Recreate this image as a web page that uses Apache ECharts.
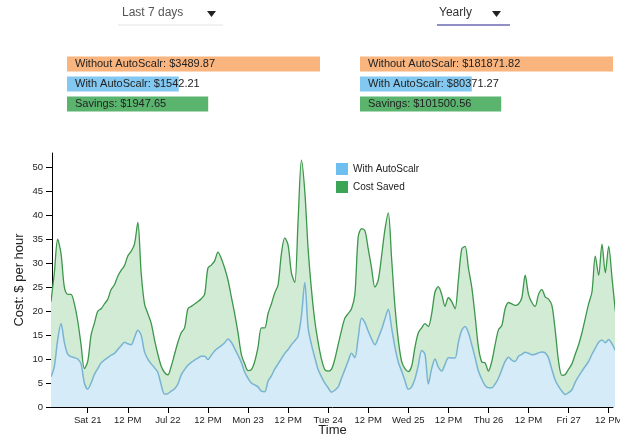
<!DOCTYPE html>
<html>
<head>
<meta charset="utf-8">
<script src="https://cdn.jsdelivr.net/npm/echarts@6/dist/echarts.min.js"></script>
<style>
  html, body { margin: 0; padding: 0; background: #fff; }
  #chart { width: 620px; height: 438px; }
</style>
</head>
<body>
<div id="chart"></div>
<script>
// hourly samples, hour 0 = Sat 21 00:00
var startHour = -11;

var withoutAutoScalr = [
  22, 28, 35, 32, 25, 23.5, 23.5, 21.5, 18, 13, 8, 9.5,
  15, 17.5, 20, 20.5, 21.5, 22.5, 24.5, 25.5, 27.3, 28.5, 29.5, 31.5,
  32.5, 34, 38.5, 28, 21.5, 19.5, 17.5, 14, 11, 8.5, 7.2, 6.7,
  8.5, 11, 13.5, 15.5, 16.5, 20.5, 21, 21.5, 22, 22.6, 23.5, 29,
  29.6, 30.5, 32.3, 31, 29, 26.5, 23, 19.5, 15.5, 11, 9, 7.6,
  7.8, 9.5, 12.5, 16.5, 16.5, 19.5, 21.5, 23.8, 25.5, 32, 35.3, 33.8,
  28, 26, 39, 51.5, 45, 33, 24.5, 18, 13.5, 10, 7.8, 7.5,
  7.9, 10, 13, 16, 18.5, 19.5, 20.5, 23.5, 35.5, 37.2, 36.8, 33,
  29, 25, 26.5, 31.5, 37, 40.5, 31, 21, 14, 9.5, 8, 7.4,
  8.5, 12.5, 15.5, 16.5, 17.4, 16.8, 19.5, 24, 25.1, 23.5, 21, 22.8,
  22, 20.5, 26.5, 33, 33.5, 29, 25, 19, 12.5, 9.4, 9.2, 7.5,
  9.5, 13, 16.1, 17, 20.5, 21.8, 21.5, 21.2, 21.5, 22.8, 27.5, 23.5,
  21.8, 21, 23.5, 24.5, 23, 22.5, 21.2, 16, 9.5, 6.6, 6.8, 7.9,
  9, 11, 13, 15.5, 18.5, 21.5, 24, 31.5, 27.5, 34, 28, 33.5,
  27, 20
];

var withAutoScalr = [
  6.3, 8.5, 14, 17.4, 13.5, 11, 10.5, 10.3, 10, 9, 5, 3.7,
  5, 6.8, 8, 9.2, 9.8, 10.3, 10.8, 11.2, 12, 12.8, 13.5, 13.2,
  13, 14.5, 16, 15, 11.5, 10, 9, 8.2, 7.2, 4.6, 2.7, 2.8,
  3.3, 3.8, 4.8, 6.7, 7.8, 8.7, 9.3, 9.8, 10.2, 10.6, 10.6, 9.9,
  10.8, 11.7, 12.3, 12.8, 13.4, 14.2, 13.5, 12.2, 10.8, 9.3, 7.3, 6,
  5, 4.6, 4.2, 3.3, 3.2, 5.4, 6.5, 7.9, 9, 10.1, 11.2, 12,
  13, 13.8, 14.8, 19, 26, 16.5, 13, 10.3, 7.8, 6.3, 5, 4,
  3.1, 3.5, 4.2, 6, 7.8, 9.6, 11.2, 10.3, 14.5, 18.5, 17.6, 15.8,
  14.2, 13, 14.4, 16.2, 18.4, 20.4, 16.5, 12.5, 9.4, 7.5, 5.5, 3.7,
  4.2, 5.9, 8.7, 11.8, 11, 4.8, 8, 10, 8.3, 7.5, 8.9, 10.3,
  10.2, 10.2, 13.5, 16, 16.8, 15.5, 13, 10.3, 7.5, 5.8, 4.5, 4,
  4, 4.8, 6, 7.8, 9.5, 10.4, 9.8, 9.5, 10.6, 11, 11.4, 11.2,
  10.9, 11, 11.3, 11.5, 11.3, 10.2, 7.8, 5.6, 4.3, 3.3, 2.6, 3,
  3.6, 5.2, 6.4, 7.5, 8.5, 9.5, 11, 12.3, 13.5, 14, 13.4, 14.1,
  13.2, 11.8
];

var tickHours = [0, 12, 24, 36, 48, 60, 72, 84, 96, 108, 120, 132, 144, 156];
var tickLabels = ['Sat 21', '12 PM', 'Jul 22', '12 PM', 'Mon 23', '12 PM', 'Tue 24',
  '12 PM', 'Wed 25', '12 PM', 'Thu 26', '12 PM', 'Fri 27', '12 PM'];
var yTicks = [0, 5, 10, 15, 20, 25, 30, 35, 40, 45, 50];

var barNames = ['Without AutoScalr', 'With AutoScalr', 'Savings'];
var weekTotals = [3489.87, 1542.21, 1947.65];
var yearTotals = [181871.82, 80371.27, 101500.56];
var barColors = ['#fab47d', '#82c8f0', '#5ab46e'];

var font = 'Liberation Sans, Arial, sans-serif';

function pairs(arr) {
  return arr.map(function (v, i) { return [startHour + i, v]; });
}

function totalsBar(totals, idx) {
  return {
    type: 'bar',
    xAxisIndex: idx,
    yAxisIndex: idx,
    barWidth: 15,
    data: totals.map(function (v, i) {
      return { value: v, itemStyle: { color: barColors[i] } };
    }),
    label: {
      show: true,
      position: 'insideLeft',
      distance: 8,
      fontFamily: font,
      fontSize: 11,
      color: '#222',
      formatter: function (p) {
        return barNames[p.dataIndex] + ': $' + p.value.toFixed(2);
      }
    },
    silent: true
  };
}

var chart = echarts.init(document.getElementById('chart'));

var option = {
  animation: false,
  textStyle: { fontFamily: font },
  graphic: [
    { type: 'text', left: 122, top: 7, style: { text: 'Last 7 days', font: '12px ' + font, fill: '#555' } },
    { type: 'polygon', shape: { points: [[207, 11], [216, 11], [211.5, 17]] }, style: { fill: '#222' } },
    { type: 'line', shape: { x1: 118, y1: 25, x2: 223, y2: 25 }, style: { stroke: '#e4e4e4', lineWidth: 1 } },
    { type: 'text', left: 439, top: 7, style: { text: 'Yearly', font: '12px ' + font, fill: '#333' } },
    { type: 'polygon', shape: { points: [[492, 11], [501, 11], [496.5, 17]] }, style: { fill: '#222' } },
    { type: 'line', shape: { x1: 437, y1: 25, x2: 510, y2: 25 }, style: { stroke: '#6b6bb5', lineWidth: 1.5 } }
  ],
  legend: {
    orient: 'vertical',
    left: 336,
    top: 163,
    padding: 0,
    itemWidth: 12,
    itemHeight: 12,
    itemGap: 6,
    icon: 'rect',
    selectedMode: false,
    itemStyle: { borderWidth: 0 },
    textStyle: { fontFamily: font, fontSize: 10, color: '#222' },
    data: ['With AutoScalr', 'Cost Saved']
  },
  grid: [
    { left: 67, top: 54, width: 253, height: 60, outerBoundsMode: 'none' },
    { left: 360, top: 54, width: 253, height: 60, outerBoundsMode: 'none' },
    { left: 52, right: 7, top: 153, bottom: 31, outerBoundsMode: 'none' }
  ],
  xAxis: [
    { gridIndex: 0, type: 'value', min: 0, max: weekTotals[0], show: false },
    { gridIndex: 1, type: 'value', min: 0, max: yearTotals[0], show: false },
    {
      gridIndex: 2,
      type: 'value',
      min: -10.7,
      max: 157.3,
      name: 'Time',
      nameLocation: 'middle',
      nameGap: 17,
      nameMoveOverlap: false,
      nameTextStyle: { fontFamily: font, fontSize: 13, color: '#222' },
      axisLine: { lineStyle: { color: '#000', width: 1 } },
      axisTick: { length: 6, customValues: tickHours, lineStyle: { color: '#000' } },
      axisLabel: {
        customValues: tickHours,
        margin: 8,
        fontSize: 9.5,
        color: '#222',
        formatter: function (v) { return tickLabels[tickHours.indexOf(v)]; }
      },
      splitLine: { show: false }
    }
  ],
  yAxis: [
    { gridIndex: 0, type: 'category', data: barNames, inverse: true, show: false },
    { gridIndex: 1, type: 'category', data: barNames, inverse: true, show: false },
    {
      gridIndex: 2,
      type: 'value',
      min: 0,
      max: 53,
      name: 'Cost: $ per hour',
      nameLocation: 'middle',
      nameGap: 26,
      nameMoveOverlap: false,
      nameTextStyle: { fontFamily: font, fontSize: 13, color: '#222' },
      axisLine: { show: true, onZero: false, lineStyle: { color: '#000', width: 1 } },
      axisTick: { show: true, length: 6, customValues: yTicks, lineStyle: { color: '#000' } },
      axisLabel: { customValues: yTicks, margin: 9, fontSize: 9.5, color: '#222' },
      splitLine: { show: false }
    }
  ],
  series: [
    totalsBar(weekTotals, 0),
    totalsBar(yearTotals, 1),
    {
      name: 'Cost Saved',
      type: 'line',
      xAxisIndex: 2,
      yAxisIndex: 2,
      data: pairs(withoutAutoScalr),
      smooth: 0.3,
      symbol: 'none',
      lineStyle: { color: '#3c964b', width: 1.3 },
      itemStyle: { color: '#3ca555' },
      areaStyle: { color: '#d2ebd4', opacity: 1 }
    },
    {
      name: 'With AutoScalr',
      type: 'line',
      xAxisIndex: 2,
      yAxisIndex: 2,
      data: pairs(withAutoScalr),
      smooth: 0.3,
      symbol: 'none',
      lineStyle: { color: '#78b4d2', width: 1.5 },
      itemStyle: { color: '#6ebef0' },
      areaStyle: { color: '#d5ebf8', opacity: 1 }
    }
  ]
};

chart.setOption(option);
</script>
</body>
</html>
